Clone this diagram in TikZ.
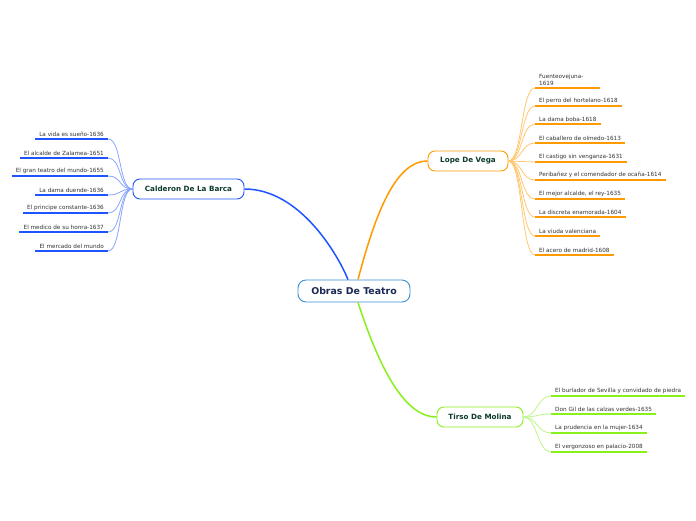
\documentclass[tikz,border=0pt]{standalone}
\usepackage{fontspec}
\setmainfont{DejaVu Sans}
\definecolor{cblue}{HTML}{1F55FF}
\definecolor{lblue}{HTML}{8AA5FF}
\definecolor{corange}{HTML}{FF9A00}
\definecolor{lorange}{HTML}{FFC870}
\definecolor{cgreen}{HTML}{88F01A}
\definecolor{lgreen}{HTML}{BDF78A}
\definecolor{cborder}{HTML}{3A8FD0}
\definecolor{dkgreen}{HTML}{0B3B2A}
\definecolor{navy}{HTML}{1A2A55}
\definecolor{leaftext}{HTML}{333333}
\tikzset{
  topic/.style={draw, rounded corners=7pt, line width=0.9pt, fill=white, text=dkgreen,
    font=\bfseries\fontsize{7.2}{8}\selectfont, minimum height=20pt, inner sep=2pt},
  central/.style={draw=cborder, rounded corners=8pt, line width=0.9pt, fill=white, text=navy,
    font=\bfseries\fontsize{9.4}{10}\selectfont, minimum height=22pt, minimum width=112pt},
  leaf/.style={inner xsep=4pt, inner ysep=2.4pt, text=leaftext, font=\fontsize{5.7}{7}\selectfont, align=left},
  leafr/.style={leaf, anchor=south east},
  leafl/.style={leaf, anchor=south west},
  ul/.style={line width=1.5pt},
  sub/.style={line width=0.8pt},
  main/.style={line width=1.5pt}
}
\begin{document}
\begin{tikzpicture}[x=1pt,y=-1pt]
\fill[white] (0,0) rectangle (696,520);
\useasboundingbox (0,0) rectangle (696,520);

\node[central] (root) at (354,291) {Obras De Teatro};
\node[topic, draw=cblue, minimum width=111pt] (cal) at (188.5,189) {Calderon De La Barca};
\node[topic, draw=corange, minimum width=80pt] (lope) at (468,161) {Lope De Vega};
\node[topic, draw=cgreen, minimum width=86pt] (tir) at (480,417) {Tirso De Molina};

\draw[cblue, main] ([xshift=-6pt]root.north) .. controls (338,255) and (300,189) .. (cal.east);
\draw[corange, main] ([xshift=4pt]root.north) .. controls (375,215) and (395,161) .. (lope.west);
\draw[cgreen, main] ([xshift=4pt]root.south) .. controls (380,370) and (405,417) .. (tir.west);

% Calderon leaves
\node[leafr] (c1) at (108,139) {La vida es sueño-1636};
\node[leafr] (c2) at (108,158) {El alcalde de Zalamea-1651};
\node[leafr] (c3) at (108,176) {El gran teatro del mundo-1655};
\node[leafr] (c4) at (108,195) {La dama duende-1636};
\node[leafr] (c5) at (108,213) {El principe constante-1636};
\node[leafr] (c6) at (108,232) {El medico de su honra-1637};
\node[leafr] (c7) at (108,251) {El mercado del mundo};
\foreach \n in {c1,c2,c3,c4,c5,c6,c7}{
  \draw[cblue, ul] (\n.south west) -- (\n.south east);
  \draw[lblue, sub] (cal.west) .. controls +(-14,0) and +(14,0) .. (\n.south east);
}

% Lope leaves
\node[leafl] (l1) at (535,88) {Fuenteovejuna-\\1619};
\node[leafl] (l2) at (535,106) {El perro del hortelano-1618};
\node[leafl] (l3) at (535,124) {La dama boba-1618};
\node[leafl] (l4) at (535,143) {El caballero de olmedo-1613};
\node[leafl] (l5) at (535,162) {El castigo sin venganza-1631};
\node[leafl] (l6) at (535,180) {Peribañez y el comendador de ocaña-1614};
\node[leafl] (l7) at (535,199) {El mejor alcalde, el rey-1635};
\node[leafl] (l8) at (535,217) {La discreta enamorada-1604};
\node[leafl] (l9) at (535,236) {La viuda valenciana};
\node[leafl] (l10) at (535,255) {El acero de madrid-1608};
\draw[corange, ul] (l1.south west) -- ([xshift=12pt]l1.south east);
\foreach \n in {l2,l3,l4,l5,l6,l7,l8,l9,l10}{
  \draw[corange, ul] (\n.south west) -- (\n.south east);
}
\foreach \n in {l1,l2,l3,l4,l5,l6,l7,l8,l9,l10}{
  \draw[lorange, sub] (lope.east) .. controls +(14,0) and +(-14,0) .. (\n.south west);
}

% Tirso leaves
\node[leafl] (t1) at (551,396) {El burlador de Sevilla y convidado de piedra};
\node[leafl] (t2) at (551,414) {Don Gil de las calzas verdes-1635};
\node[leafl] (t3) at (551,433) {La prudencia en la mujer-1634};
\node[leafl] (t4) at (551,452) {El vergonzoso en palacio-2008};
\foreach \n in {t1,t2,t3,t4}{
  \draw[cgreen, ul] (\n.south west) -- (\n.south east);
  \draw[lgreen, sub] (tir.east) .. controls +(14,0) and +(-14,0) .. (\n.south west);
}
\end{tikzpicture}
\end{document}
